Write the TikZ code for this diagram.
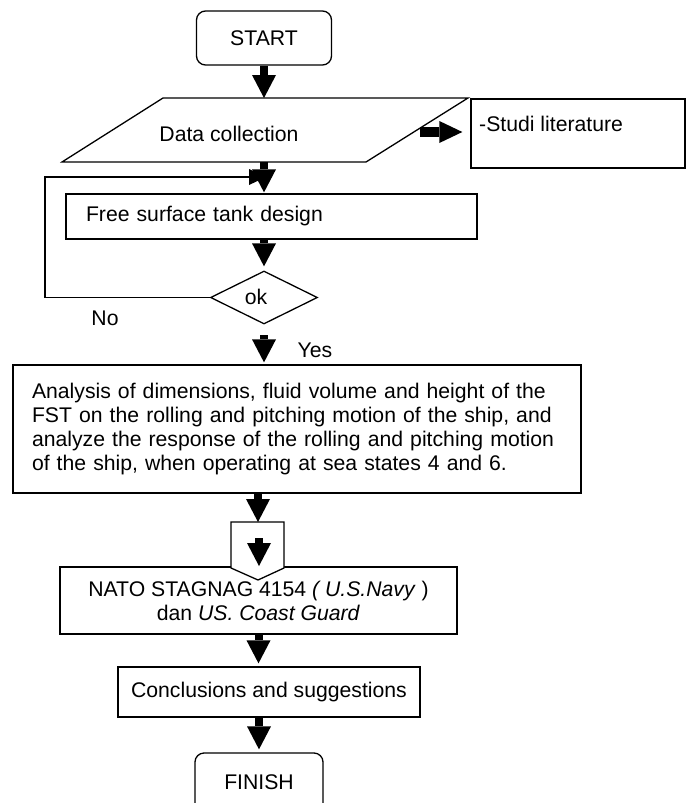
\documentclass[tikz,border=0pt]{standalone}
\usepackage{fontspec}
\setmainfont{Liberation Sans}
\usetikzlibrary{arrows.meta,shapes.geometric}
\begin{document}
\begin{tikzpicture}[x=1pt,y=-1pt,
  font=\fontsize{21.2}{24}\selectfont,
  box/.style={draw, line width=1.3pt, inner sep=0pt},
  blk/.style={line width=8pt, -{Triangle[width=24pt,length=23pt,line width=0pt]}},
  thinline/.style={line width=1.3pt}]
\useasboundingbox (0,0) rectangle (688,803);
\clip (0,0) rectangle (688,803);

% START
\node[box, rounded corners=9pt, minimum width=135pt, minimum height=54pt] (start) at (264,38) {START};

% Data collection (parallelogram)
\draw[thinline] (163,98) coordinate (dtl) -- (468,98) coordinate (dtr)
  -- (366,162) coordinate (dbr) -- (62,162) coordinate (dbl) -- cycle;
\node (dtext) at (229,134) {Data collection};
\coordinate (dtop) at (264,98);
\coordinate (dbot) at (264,162);
\coordinate (dright) at (420,132);

% Studi literature
\node[box, minimum width=214pt, minimum height=69pt] (studi) at (578,133.5) {};
\node[anchor=west, inner sep=0pt] (studit) at (479,124) {-Studi literature};

% Free surface tank design
\node[box, text width=371pt, inner xsep=20pt, minimum height=45pt, align=left] (free) at (271.5,216.5) {Free surface tank design};

% Decision
\node[box, diamond, minimum width=107pt, minimum height=53pt] (dia) at (264,297.5) {};
\node (ok) at (256,297) {ok};
\node (no) at (105,318) {No};

% Analysis
\node[box, text width=530pt, inner xsep=19pt, minimum height=128pt, align=left] (ana) at (297,429)
  {Analysis of dimensions, fluid volume and height of the\\
   FST on the rolling and pitching motion of the ship, and\\
   analyze the response of the rolling and pitching motion\\
   of the ship, when operating at sea states 4 and 6.};
\coordinate (ys) at (264,335);
\node (yes) at (315,350) {Yes};

% NATO box
\node[box, minimum width=397pt, minimum height=67pt, align=center] (nato) at (258.5,600.5)
  {NATO STAGNAG 4154 \textit{( U.S.Navy} )\\ dan \textit{US. Coast Guard}};

% Off-page connector
\draw[thinline, fill=white] (231,522) coordinate (pl) -- (258,522) coordinate (ptop) -- (284,522)
  -- (284,568) -- (258,580) -- (231,568) -- cycle;
\coordinate (pin) at (259,538);
\coordinate (pout) at (259,566);

% Conclusions
\node[box, minimum width=302pt, minimum height=50pt] (conc) at (269,692) {Conclusions and suggestions};

% FINISH
\node[box, rounded corners=9pt, minimum width=128pt, minimum height=77pt] (finish) at (259,791.5) {};
\node (fint) at (259,782) {FINISH};

% Connectors
\draw[blk] (start.south) -- (dtop);
\draw[blk, line width=10pt, -{Triangle[width=22pt,length=23pt,line width=0pt]}] (dright) -- ([xshift=-8pt]studi.west |- dright);
\draw[blk, shorten >=1pt] (dbot) -- (dbot |- free.north);
\draw[blk, shorten >=4pt] (free.south -| dia.north) -- (dia.north);
\draw[thinline, -{Triangle[width=16pt,length=17pt,line width=0pt]}] (dia.west) -- (45,297.5) coordinate (lp1) -- (45,177) coordinate (lp2) -- (266,177) coordinate (lpe);
\draw[blk, shorten >=2pt] (ys) -- (ys |- ana.north);
\draw[blk] (ana.south -| ptop) -- (ptop);
\draw[blk] (pin) -- (pout);
\draw[blk, shorten >=3pt] (nato.south) -- (nato.south |- conc.north);
\draw[blk, shorten >=3pt] (finish.north |- conc.south) -- (finish.north);
\end{tikzpicture}
\end{document}
